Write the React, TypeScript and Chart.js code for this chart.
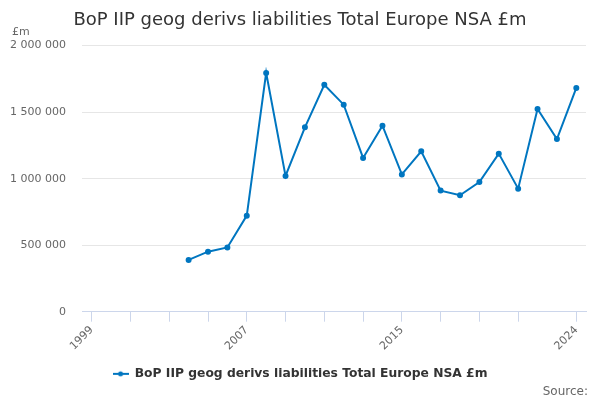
import { useEffect, useRef } from "react"
import { Chart, type ChartConfiguration, registerables } from "chart.js"

Chart.register(...registerables)

const FONT = "'DejaVu Sans', Verdana, sans-serif"

const title = "BoP IIP geog derivs liabilities Total Europe NSA £m"
const seriesLabel = "BoP IIP geog derivs liabilities Total Europe NSA £m"
const unitLabel = "£m"
const sourceLabel = "Source:"

const years = [
  1999, 2000, 2001, 2002, 2003, 2004, 2005, 2006, 2007, 2008, 2009, 2010, 2011,
  2012, 2013, 2014, 2015, 2016, 2017, 2018, 2019, 2020, 2021, 2022, 2023, 2024,
]
const values: (number | null)[] = [
  null, null, null, null, null, 389000, 451000, 483000, 722000, 1795000,
  1020000, 1386000, 1705000, 1556000, 1156000, 1398000, 1032000, 1205000,
  910000, 875000, 975000, 1188000, 925000, 1524000, 1298000, 1682000,
]
const labelledYears = [1999, 2007, 2015, 2024]
const tickMarkYears = [1999, 2001, 2003, 2005, 2007, 2009, 2011, 2013, 2015, 2017, 2019, 2021, 2024]

const lineColor = "#0076c0"

const formatThousands = (v: number) =>
  String(Math.round(v)).replace(/\B(?=(\d{3})+(?!\d))/g, " ")

export default function App() {
  const chartRef = useRef<HTMLCanvasElement>(null)
  const chartInstance = useRef<Chart | null>(null)

  useEffect(() => {
    if (!chartRef.current) return
    if (chartInstance.current) chartInstance.current.destroy()
    const ctx = chartRef.current.getContext("2d")
    if (!ctx) return

    // legend symbol: short line with a dot
    const symbol = document.createElement("canvas")
    symbol.width = 16
    symbol.height = 8
    const sctx = symbol.getContext("2d")
    if (sctx) {
      sctx.strokeStyle = lineColor
      sctx.lineWidth = 2
      sctx.beginPath()
      sctx.moveTo(0, 4)
      sctx.lineTo(16, 4)
      sctx.stroke()
      sctx.fillStyle = lineColor
      sctx.beginPath()
      sctx.arc(8, 4, 2.5, 0, Math.PI * 2)
      sctx.fill()
    }

    const extraText = {
      id: "extraText",
      afterDraw(chart: Chart) {
        const c = chart.ctx
        c.save()
        c.fillStyle = "#666666"
        c.textBaseline = "middle"
        c.font = `11px ${FONT}`
        c.textAlign = "left"
        c.fillText(unitLabel, 12, 32)
        c.font = `12px ${FONT}`
        c.textAlign = "right"
        c.fillText(sourceLabel, 588, 392)
        c.restore()
      },
    }

    const config: ChartConfiguration = {
      type: "line",
      data: {
        datasets: [
          {
            label: seriesLabel,
            data: years.map((y, i) => ({ x: y, y: values[i] })) as any,
            borderColor: lineColor,
            backgroundColor: lineColor,
            borderWidth: 2,
            pointRadius: 2,
            pointHoverRadius: 3,
            tension: 0,
          },
        ],
      },
      options: {
        animation: false,
        responsive: true,
        maintainAspectRatio: false,
        layout: { padding: { left: 0, right: 0, top: 0, bottom: 10 } },
        plugins: {
          title: {
            display: true,
            text: title,
            color: "#333333",
            font: { family: FONT, size: 18, weight: "normal" },
            padding: { top: 10, bottom: 14 },
          },
          legend: {
            position: "bottom",
            labels: {
              usePointStyle: true,
              pointStyle: symbol,
              pointStyleWidth: 16,
              color: "#333333",
              font: { family: FONT, size: 12.3, weight: "bold" },
              padding: 6,
            },
          },
          tooltip: { enabled: false },
        },
        scales: {
          x: {
            type: "linear",
            min: 1998.5,
            max: 2024.5,
            afterBuildTicks: (scale: any) => {
              scale.ticks = years.map((v) => ({ value: v }))
            },
            afterFit: (scale: any) => {
              scale.height = 50
            },
            grid: {
              drawOnChartArea: false,
              drawTicks: true,
              tickLength: 10,
              tickColor: (c: any) =>
                tickMarkYears.includes(c.tick?.value) ? "#ccd6eb" : "rgba(0,0,0,0)",
            },
            border: { display: true, color: "#ccd6eb", width: 1 },
            ticks: {
              autoSkip: false,
              maxRotation: 45,
              minRotation: 45,
              padding: 2,
              color: "#666666",
              font: { family: FONT, size: 11 },
              callback: (v: any) => (labelledYears.includes(Number(v)) ? String(v) : ""),
            },
          },
          y: {
            min: 0,
            max: 2000000,
            afterFit: (scale: any) => {
              scale.width = 82
            },
            grid: { color: "#e6e6e6", drawTicks: false },
            border: { display: false },
            ticks: {
              stepSize: 500000,
              padding: 16,
              color: "#666666",
              font: { family: FONT, size: 11 },
              callback: (v: any) => formatThousands(Number(v)),
            },
          },
          // empty right-hand axis, only keeps a margin so title and legend stay centred on the page
          yRight: {
            position: "right",
            display: true,
            min: 0,
            max: 2000000,
            afterFit: (scale: any) => {
              scale.width = 14
            },
            grid: { display: false, drawTicks: false },
            border: { display: false },
            ticks: { display: false },
          },
        },
      },
      plugins: [extraText],
    }

    chartInstance.current = new Chart(ctx, config)

    return () => {
      if (chartInstance.current) {
        chartInstance.current.destroy()
        chartInstance.current = null
      }
    }
  }, [])

  return (
    <div style={{ position: "absolute", left: 0, top: 0, width: 600, height: 400, background: "#fff" }}>
      <canvas ref={chartRef} />
    </div>
  )
}
